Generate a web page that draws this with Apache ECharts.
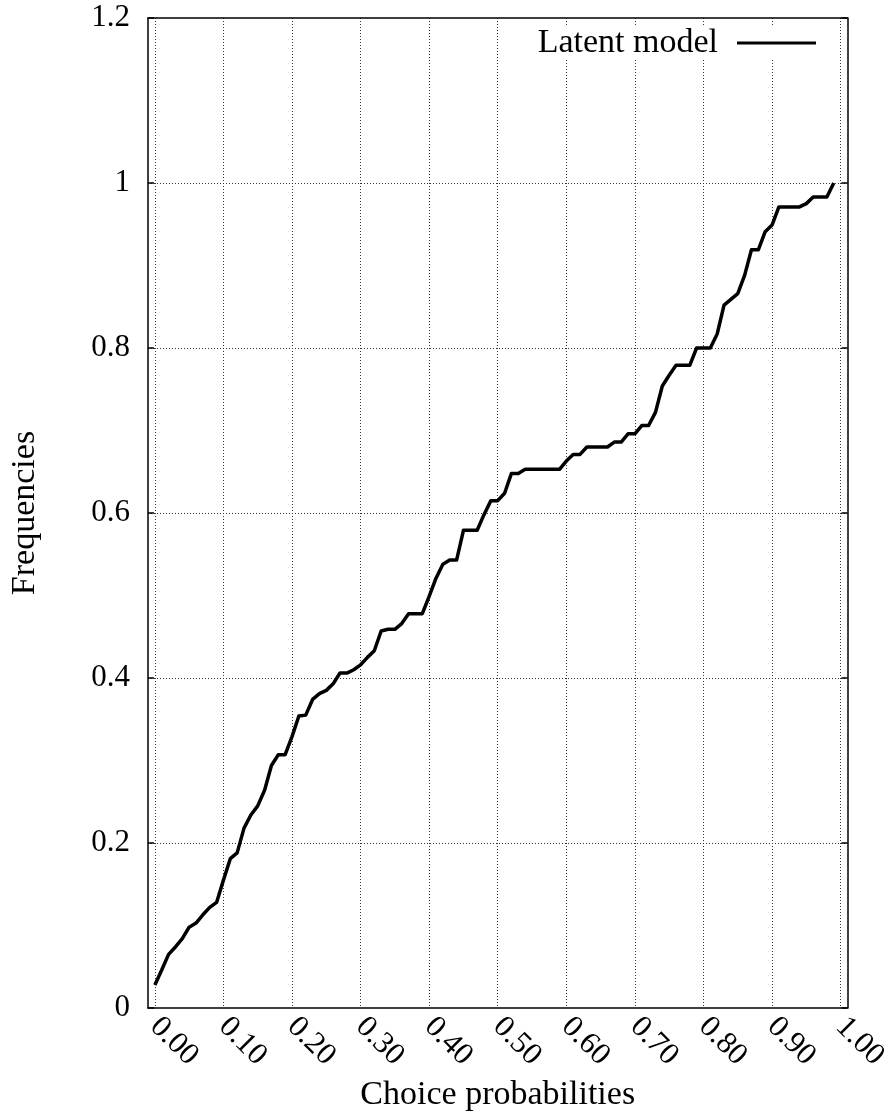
<!DOCTYPE html>
<html>
<head>
<meta charset="utf-8">
<script src="https://cdn.jsdelivr.net/npm/echarts@6/dist/echarts.min.js"></script>
<style>
html,body{margin:0;padding:0;background:#fff;}
#chart{width:892px;height:1118px;}
</style>
</head>
<body>
<div id="chart"></div>
<script>
// Choice probabilities (x) and observed frequencies (y)
const probabilities = [
  0.00,0.01,0.02,0.03,0.04,0.05,0.06,0.07,0.08,0.09,
  0.10,0.11,0.12,0.13,0.14,0.15,0.16,0.17,0.18,0.19,
  0.20,0.21,0.22,0.23,0.24,0.25,0.26,0.27,0.28,0.29,
  0.30,0.31,0.32,0.33,0.34,0.35,0.36,0.37,0.38,0.39,
  0.40,0.41,0.42,0.43,0.44,0.45,0.46,0.47,0.48,0.49,
  0.50,0.51,0.52,0.53,0.54,0.55,0.56,0.57,0.58,0.59,
  0.60,0.61,0.62,0.63,0.64,0.65,0.66,0.67,0.68,0.69,
  0.70,0.71,0.72,0.73,0.74,0.75,0.76,0.77,0.78,0.79,
  0.80,0.81,0.82,0.83,0.84,0.85,0.86,0.87,0.88,0.89,
  0.90,0.91,0.92,0.93,0.94,0.95,0.96,0.97,0.98,0.99
];
const frequencies = [
  0.028,0.046,0.065,0.074,0.084,0.098,0.103,0.113,0.122,0.128,
  0.155,0.181,0.188,0.218,0.234,0.245,0.264,0.294,0.307,0.307,
  0.329,0.354,0.355,0.374,0.381,0.385,0.393,0.406,0.406,0.410,
  0.416,0.425,0.433,0.457,0.459,0.459,0.466,0.478,0.478,0.478,
  0.499,0.521,0.538,0.543,0.543,0.579,0.579,0.579,0.598,0.615,
  0.615,0.624,0.648,0.648,0.653,0.653,0.653,0.653,0.653,0.653,
  0.663,0.671,0.671,0.680,0.680,0.680,0.680,0.686,0.686,0.696,
  0.696,0.706,0.706,0.722,0.754,0.767,0.779,0.779,0.779,0.800,
  0.800,0.800,0.817,0.852,0.859,0.866,0.888,0.919,0.919,0.941,
  0.949,0.971,0.971,0.971,0.971,0.975,0.983,0.983,0.983,1.000
];
const xTickValues = [0.0,0.1,0.2,0.3,0.4,0.5,0.6,0.7,0.8,0.9,1.0];
const xTickLabels = ['0.00','0.10','0.20','0.30','0.40','0.50','0.60','0.70','0.80','0.90','1.00'];
const seriesName = 'Latent model';
const xTitle = 'Choice probabilities';
const yTitle = 'Frequencies';

const FONT = '"Liberation Serif", "Times New Roman", serif';
const chart = echarts.init(document.getElementById('chart'), null, {renderer: 'canvas'});

const lineData = probabilities.map((p, i) => [p, frequencies[i]]);
const labelMap = {};
xTickValues.forEach((v, i) => { labelMap[v.toFixed(2)] = xTickLabels[i]; });

const gridDash = {color: '#333', width: 1, type: [1, 2]};

chart.setOption({
  animation: false,
  backgroundColor: '#fff',
  grid: {left: 143, right: 41, top: 18, bottom: 110, containLabel: false},
  legend: {
    data: [{name: seriesName, icon: 'rect'}],
    right: 68,
    top: 26,
    align: 'right',
    itemWidth: 79,
    itemHeight: 3,
    padding: [0, 8, 0, 8],
    backgroundColor: '#fff',
    textStyle: {fontFamily: FONT, fontSize: 34, color: '#000', lineHeight: 29, padding: [0, 14, 0, 0]}
  },
  xAxis: [{
    type: 'value',
    min: -0.01,
    max: 1.01,
    position: 'bottom',
    name: xTitle,
    nameLocation: 'middle',
    nameGap: 69,
    nameTextStyle: {fontFamily: FONT, fontSize: 34, color: '#000'},
    axisLine: {show: true, onZero: false, lineStyle: {color: '#000', width: 1.5}},
    axisTick: {show: false, customValues: xTickValues},
    axisLabel: {
      customValues: xTickValues,
      rotate: -45,
      margin: 14,
      fontFamily: FONT,
      fontSize: 31,
      color: '#000',
      formatter: v => labelMap[Number(v).toFixed(2)]
    },
    splitLine: {show: true, lineStyle: gridDash}
  }, {
    type: 'value',
    min: -0.01,
    max: 1.01,
    position: 'top',
    axisLine: {show: true, onZero: false, lineStyle: {color: '#000', width: 1.5}},
    axisTick: {show: false},
    axisLabel: {show: false},
    splitLine: {show: false}
  }],
  yAxis: [{
    type: 'value',
    min: 0,
    max: 1.2,
    interval: 0.2,
    position: 'left',
    name: yTitle,
    nameLocation: 'middle',
    nameGap: 106,
    nameTextStyle: {fontFamily: FONT, fontSize: 34, color: '#000'},
    axisLine: {show: true, onZero: false, lineStyle: {color: '#000', width: 1.5}},
    axisTick: {show: true, inside: true, length: 6, lineStyle: {color: '#000', width: 1.5}},
    axisLabel: {margin: 18, fontFamily: FONT, fontSize: 31, color: '#000'},
    splitLine: {show: true, showMinLine: false, showMaxLine: false, lineStyle: gridDash}
  }, {
    type: 'value',
    min: 0,
    max: 1.2,
    interval: 0.2,
    position: 'right',
    axisLine: {show: true, onZero: false, lineStyle: {color: '#000', width: 1.5}},
    axisTick: {show: true, inside: true, length: 6, lineStyle: {color: '#000', width: 1.5}},
    axisLabel: {show: false},
    splitLine: {show: false}
  }],
  series: [{
    name: seriesName,
    type: 'line',
    xAxisIndex: 0,
    yAxisIndex: 0,
    data: lineData,
    symbol: 'none',
    smooth: false,
    color: '#000',
    lineStyle: {color: '#000', width: 3.5, join: 'round'},
    z: 5
  }]
});
</script>
</body>
</html>
